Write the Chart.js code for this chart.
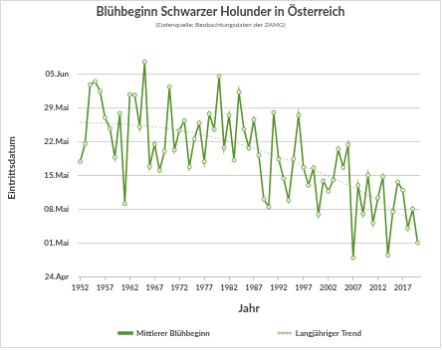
<!DOCTYPE html>
<html lang="de">
<head>
  <meta charset="UTF-8" />
  <title>Blühbeginn Schwarzer Holunder</title>
  <script src="https://cdn.jsdelivr.net/npm/chart.js"></script>
  <style>
    body { margin: 0; background: #fff; }
    #chart { display: block; border: 1px solid #d9d9d9; }
  </style>
</head>
<body>
  <canvas id="chart" width="441" height="348"></canvas>

  <script>
    // Jahre 1952–2020
    const years = Array.from({ length: 69 }, (_, i) => 1952 + i);

    // mittlerer Blühbeginn, Tage nach dem 24. April
    const bloomDays = [
      23.8, 27.5, 39.7, 40.4, 38.4, 32.9, 30.7, 24.7, 33.8, 15.1,
      37.7, 37.6, 31.0, 44.5, 22.8, 27.4, 22.0, 25.9, 39.3, 26.2,
      30.3, 32.3, 22.7, 28.5, 31.8, 23.8, 33.7, 30.5, 41.5, 26.7,
      33.4, 24.1, 38.2, 30.5, 26.6, 32.5, 25.1, 16.0, 14.4, 34.0,
      24.3, 20.3, 15.8, 24.4, 33.4, 22.6, 18.9, 22.5, 12.9, 19.8,
      17.7, 20.0, 26.4, 22.6, 27.3, 3.9, 18.9, 13.0, 21.0, 11.1,
      16.3, 20.7, 4.4, 13.4, 19.6, 17.9, 10.0, 14.0, 7.0
    ];

    const trendYears = [1952, 1962, 1972, 1982, 1992, 2002, 2012, 2020];
    const trendDays = [31.9, 31.5, 30.3, 28.0, 24.8, 20.8, 15.8, 10.5];

    // Achsenbeschriftung (Tage nach 24. April)
    const dateTickValues = [0, 7, 14, 21, 28, 35, 42];
    const dateTickLabels = ['24.Apr', '01.Mai', '08.Mai', '15.Mai', '22.Mai', '29.Mai', '05.Jun'];

    const trendData = years.map(y => {
      const k = trendYears.indexOf(y);
      return k >= 0 ? trendDays[k] : null;
    });

    const green = '#55912a';
    const textColor = '#404040';
    const fontFamily = 'Lato, "Open Sans", sans-serif';
    const emSpaces = n => '\u2003'.repeat(n);

    new Chart(document.getElementById('chart'), {
      type: 'line',
      data: {
        labels: years,
        datasets: [{
          label: 'Mittlerer Blühbeginn',
          data: bloomDays,
          borderColor: green,
          backgroundColor: green,
          borderWidth: 1.6,
          pointRadius: 2,
          pointBorderWidth: 1,
          pointBorderColor: '#7aab52',
          pointBackgroundColor: '#e6f0dc',
          tension: 0
        }, {
          label: 'Langjähriger Trend',
          data: trendData,
          spanGaps: true,
          borderColor: '#b3c9a3',
          backgroundColor: '#b3c9a3',
          borderWidth: 1,
          borderDash: [2, 2],
          pointRadius: 0,
          cubicInterpolationMode: 'monotone'
        }]
      },
      options: {
        responsive: false,
        animation: false,
        layout: { padding: { left: 20, right: 20, top: 4, bottom: 0 } },
        plugins: {
          title: {
            display: true,
            text: 'Blühbeginn Schwarzer Holunder in Österreich',
            color: textColor,
            font: { family: fontFamily, size: 12.3, weight: 'bold' },
            padding: { top: 0, bottom: 0 }
          },
          subtitle: {
            display: true,
            text: '(Datenquelle: Beobachtungsdaten der ZAMG)',
            color: '#595959',
            font: { family: fontFamily, size: 6.5 },
            padding: { top: 1, bottom: 31 }
          },
          legend: {
            position: 'bottom',
            fullSize: false,
            labels: {
              color: textColor,
              font: { family: fontFamily, size: 8, weight: 'bold' },
              boxWidth: 14,
              boxHeight: 2,
              padding: 2,
              // breiterer Abstand zwischen den Einträgen wie im Original
              generateLabels: chart => {
                const items = Chart.defaults.plugins.legend.labels.generateLabels(chart);
                items[0].text += emSpaces(11);
                items[1].text += emSpaces(3);
                return items;
              }
            }
          },
          tooltip: { enabled: false }
        },
        scales: {
          x: {
            type: 'category',
            offset: true,
            grid: {
              drawOnChartArea: false,
              tickLength: 4,
              color: ctx => (ctx.index % 5 === 0 ? '#bfbfbf' : 'transparent')
            },
            border: { color: '#bfbfbf' },
            ticks: {
              autoSkip: false,
              maxRotation: 0,
              color: textColor,
              font: { family: fontFamily, size: 7.5, weight: 'bold' },
              callback: (v, i) => ((years[i] - 1952) % 5 === 0 ? years[i] : '')
            },
            title: {
              display: true,
              text: 'Jahr',
              color: textColor,
              font: { family: fontFamily, size: 11.5, weight: 'bold' },
              padding: { top: 6, bottom: 12 }
            }
          },
          y: {
            min: 0,
            max: 45,
            afterBuildTicks: scale => {
              scale.ticks = dateTickValues.map(v => ({ value: v }));
            },
            afterFit: scale => { scale.width = 57; },
            grid: { color: '#cfcfcf', drawTicks: false },
            border: { display: false },
            ticks: {
              padding: 9,
              color: textColor,
              font: { family: fontFamily, size: 8, weight: 'bold' },
              callback: v => dateTickLabels[dateTickValues.indexOf(v)]
            },
            title: {
              display: true,
              text: 'Eintrittsdatum',
              color: textColor,
              font: { family: fontFamily, size: 10, weight: 'bold' },
              padding: { top: -15, bottom: 6 }
            }
          }
        }
      }
    });
  </script>
</body>
</html>
